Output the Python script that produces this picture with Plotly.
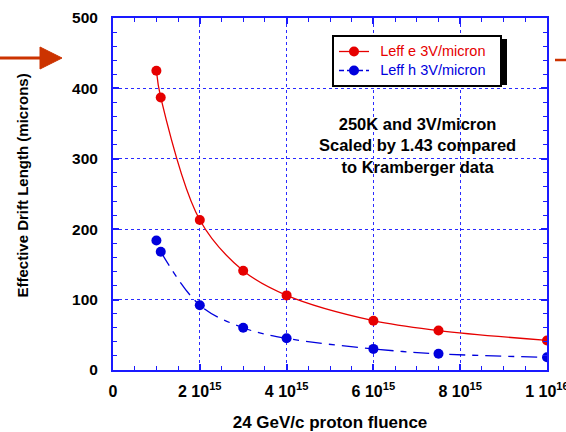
import plotly.graph_objects as go

# ---- data ----
fluence = [1.0e15, 1.1e15, 2e15, 3e15, 4e15, 6e15, 7.5e15, 1e16]
leff_e = [425, 387, 213, 141, 106, 70, 56, 42]
leff_h = [184, 168, 92, 60, 45, 30, 23, 18]

x_tickvals = [0, 2e15, 4e15, 6e15, 8e15, 1e16]
x_ticktext = ["0", "2 10<sup>15</sup>", "4 10<sup>15</sup>", "6 10<sup>15</sup>",
              "8 10<sup>15</sup>", "1 10<sup>16</sup>"]
y_tickvals = [0, 100, 200, 300, 400, 500]

x_title = "24 GeV/c proton fluence"
y_title = "Effective Drift Length (microns)"
note = "250K and 3V/micron<br>Scaled by 1.43 compared<br>to Kramberger data"
name_e = "Leff e 3V/micron"
name_h = "Leff h 3V/micron"

RED = "#e60000"
BLUE = "#0000dd"
AXBLUE = "#1a1aff"
ORANGE = "#cc3300"
FONT = "Arial, Liberation Sans, sans-serif"
PRE = "&nbsp;" * 2
POST = "&nbsp;" * 3


def legend_name(txt, color):
    return f"{PRE}<span style='color:{color};font-size:14.5px'>{txt}</span>{POST}"


fig = go.Figure()

fig.add_trace(go.Scatter(
    x=fluence, y=leff_e, mode="lines+markers",
    name=legend_name(name_e, RED),
    line=dict(color=RED, width=1.3, shape="spline", smoothing=1.0),
    marker=dict(color=RED, size=10),
))
fig.add_trace(go.Scatter(
    x=fluence[1:], y=leff_h[1:], mode="lines", showlegend=False,
    line=dict(color=BLUE, width=1.3, shape="spline", smoothing=1.0,
              dash="16px,7px,6px,7px"),
    hoverinfo="skip",
))
fig.add_trace(go.Scatter(
    x=fluence, y=leff_h, mode="markers", showlegend=False,
    marker=dict(color=BLUE, size=10),
))
fig.add_trace(go.Scatter(
    x=[None], y=[None], mode="lines+markers",
    name=legend_name(name_h, BLUE),
    line=dict(color=BLUE, width=1.3, dash="5px,3px,16px,3px"),
    marker=dict(color=BLUE, size=10),
))

axis_common = dict(
    showline=True, linecolor=AXBLUE, linewidth=2, mirror="ticks",
    ticks="inside", tickcolor=AXBLUE, tickwidth=1.5, ticklen=6,
    showgrid=True, gridcolor="#2a2aff", griddash="dot", gridwidth=1,
    zeroline=False, automargin=False, ticklabeloverflow="allow",
)

fig.update_xaxes(
    range=[0, 1e16], tickmode="array", tickvals=x_tickvals, ticktext=x_ticktext,
    minor=dict(ticks="inside", ticklen=4, tickcolor=AXBLUE, tickwidth=1.2,
               dtick=5e14, showgrid=False),
    ticklabelstandoff=6,
    tickfont=dict(family=FONT, size=16, color="black", weight="bold"),
    title=dict(text=x_title, standoff=18,
               font=dict(family=FONT, size=17, color="black", weight="bold")),
    **axis_common,
)
fig.update_yaxes(
    range=[0, 500], tickmode="array", tickvals=y_tickvals,
    minor=dict(ticks="inside", ticklen=4, tickcolor=AXBLUE, tickwidth=1.2,
               dtick=20, showgrid=False),
    ticklabelstandoff=10,
    tickfont=dict(family=FONT, size=15.5, color="black", weight="bold"),
    **axis_common,
)


def px2x(px):
    return (px - 113) / 434.0


def py2y(py):
    return (370 - py) / 352.0


shapes = [
    # legend drop shadow
    dict(type="rect", xref="paper", yref="paper",
         x0=px2x(337), x1=px2x(507), y0=py2y(85), y1=py2y(39),
         fillcolor="black", line=dict(width=0), layer="above"),
    # left arrow
    dict(type="line", xref="paper", yref="paper",
         x0=px2x(0), x1=px2x(44), y0=py2y(58), y1=py2y(58),
         line=dict(color=ORANGE, width=3)),
    dict(type="path", xref="paper", yref="paper",
         path=f"M {px2x(40)} {py2y(47)} L {px2x(62)} {py2y(58)} L {px2x(40)} {py2y(69)} Z",
         fillcolor=ORANGE, line=dict(color=ORANGE, width=1)),
    # right line stub
    dict(type="line", xref="paper", yref="paper",
         x0=px2x(555), x1=px2x(567), y0=py2y(60), y1=py2y(60),
         line=dict(color=ORANGE, width=2.5)),
]

fig.update_layout(
    width=566, height=432,
    margin=dict(l=113, r=19, t=18, b=62),
    paper_bgcolor="white", plot_bgcolor="white",
    font=dict(family=FONT, size=14, color="black"),
    showlegend=True,
    legend=dict(
        x=px2x(332), y=py2y(35), xanchor="left", yanchor="top",
        bgcolor="white", bordercolor="black", borderwidth=2,
        font=dict(family=FONT, size=11),
        itemwidth=30, tracegroupgap=0,
    ),
    shapes=shapes,
    annotations=[
        dict(xref="paper", yref="paper", x=px2x(417), y=py2y(145),
             text=note, showarrow=False, align="center",
             xanchor="center", yanchor="middle",
             font=dict(family=FONT, size=16.5, color="black", weight="bold")),
        dict(xref="paper", yref="paper", x=px2x(21.5), y=py2y(186),
             text=y_title, showarrow=False, textangle=-90,
             xanchor="center", yanchor="middle",
             font=dict(family=FONT, size=15, color="black", weight="bold")),
    ],
)

fig.write_html("out.html")
